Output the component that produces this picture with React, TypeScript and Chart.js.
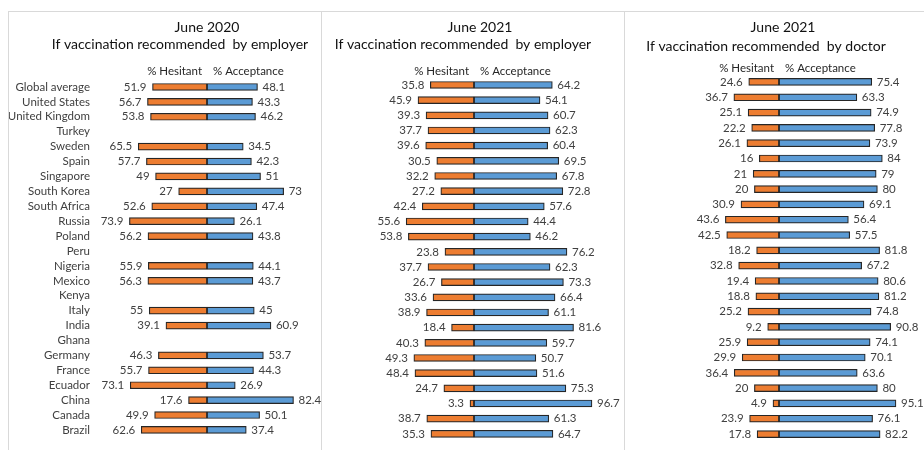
import React, { useEffect, useRef } from "react";
import { Chart, registerables } from "chart.js";
Chart.register(...registerables);

const countries = [
  "Global average", "United States", "United Kingdom", "Turkey", "Sweden", "Spain",
  "Singapore", "South Korea", "South Africa", "Russia", "Poland", "Peru", "Nigeria",
  "Mexico", "Kenya", "Italy", "India", "Ghana", "Germany", "France", "Ecuador",
  "China", "Canada", "Brazil",
];

const hesitant2020Employer = [51.9, 56.7, 53.8, null, 65.5, 57.7, 49, 27, 52.6, 73.9, 56.2, null, 55.9, 56.3, null, 55, 39.1, null, 46.3, 55.7, 73.1, 17.6, 49.9, 62.6];
const acceptance2020Employer = [48.1, 43.3, 46.2, null, 34.5, 42.3, 51, 73, 47.4, 26.1, 43.8, null, 44.1, 43.7, null, 45, 60.9, null, 53.7, 44.3, 26.9, 82.4, 50.1, 37.4];

const hesitant2021Employer = [35.8, 45.9, 39.3, 37.7, 39.6, 30.5, 32.2, 27.2, 42.4, 55.6, 53.8, 23.8, 37.7, 26.7, 33.6, 38.9, 18.4, 40.3, 49.3, 48.4, 24.7, 3.3, 38.7, 35.3];
const acceptance2021Employer = [64.2, 54.1, 60.7, 62.3, 60.4, 69.5, 67.8, 72.8, 57.6, 44.4, 46.2, 76.2, 62.3, 73.3, 66.4, 61.1, 81.6, 59.7, 50.7, 51.6, 75.3, 96.7, 61.3, 64.7];

const hesitant2021Doctor = [24.6, 36.7, 25.1, 22.2, 26.1, 16, 21, 20, 30.9, 43.6, 42.5, 18.2, 32.8, 19.4, 18.8, 25.2, 9.2, 25.9, 29.9, 36.4, 20, 4.9, 23.9, 17.8];
const acceptance2021Doctor = [75.4, 63.3, 74.9, 77.8, 73.9, 84, 79, 80, 69.1, 56.4, 57.5, 81.8, 67.2, 80.6, 81.2, 74.8, 90.8, 74.1, 70.1, 63.6, 80, 95.1, 76.1, 82.2];

const seriesNames = ["% Hesitant", "% Acceptance"];

const FONT = "Lato, 'Open Sans', sans-serif";
const ORANGE = "#ED7D31";
const BLUE = "#5B9BD5";
const EDGE = "#262626";
const TEXT = "#404040";

const panels = [
  {
    title: ["June 2020", "If vaccination recommended  by employer"],
    hes: hesitant2020Employer, acc: acceptance2020Employer,
    left: 9, width: 312,
    showLabels: true, axisW: 93,
    pad: { left: 0, right: 9, top: 67.5, bottom: 12.6 },
    titleX: [198, 171], titleY: [15, 32], headerY: 59,
  },
  {
    title: ["June 2021", "If vaccination recommended  by employer"],
    hes: hesitant2021Employer, acc: acceptance2021Employer,
    left: 322, width: 302,
    showLabels: false, axisW: 0,
    pad: { left: 30, right: 28, top: 65.4, bottom: 8.6 },
    titleX: [158, 141], titleY: [15, 32], headerY: 59,
  },
  {
    title: ["June 2021", "If vaccination recommended  by doctor"],
    hes: hesitant2021Doctor, acc: acceptance2021Doctor,
    left: 625, width: 299,
    showLabels: false, axisW: 0,
    pad: { left: 31, right: 22, top: 62.3, bottom: 8.3 },
    titleX: [158, 141], titleY: [15, 34], headerY: 56,
  },
];

const CANVAS_TOP = 12;
const CANVAS_H = 438;

function makeTextPlugin(cfg: any) {
  return {
    id: "texts",
    afterDatasetsDraw(chart: any) {
      const ctx = chart.ctx;
      ctx.save();
      ctx.font = `11.5px ${FONT}`;
      ctx.fillStyle = TEXT;
      ctx.textBaseline = "middle";
      chart.data.datasets.forEach((ds: any, i: number) => {
        const meta = chart.getDatasetMeta(i);
        meta.data.forEach((el: any, j: number) => {
          const v = ds.data[j];
          if (v == null || !isFinite(el.x)) return;
          const txt = String(Math.abs(v));
          if (v < 0) {
            ctx.textAlign = "right";
            ctx.fillText(txt, el.x - 6, el.y);
          } else {
            ctx.textAlign = "left";
            ctx.fillText(txt, el.x + 5, el.y);
          }
        });
      });
      ctx.restore();
    },
    afterDraw(chart: any) {
      const ctx = chart.ctx;
      ctx.save();
      ctx.textBaseline = "middle";
      ctx.textAlign = "center";
      ctx.fillStyle = "#111";
      ctx.font = `14px ${FONT}`;
      cfg.title.forEach((line: string, k: number) => {
        ctx.fillText(line, cfg.titleX[k], cfg.titleY[k]);
      });
      const zero = chart.scales.x.getPixelForValue(0);
      ctx.font = `11.5px ${FONT}`;
      ctx.fillStyle = "#262626";
      ctx.textAlign = "right";
      ctx.fillText(seriesNames[0], zero - 5, cfg.headerY);
      ctx.textAlign = "left";
      ctx.fillText(seriesNames[1], zero + 6, cfg.headerY);
      ctx.restore();
    },
  };
}

function Panel({ cfg }: { cfg: any }) {
  const ref = useRef<HTMLCanvasElement | null>(null);
  useEffect(() => {
    const chart = new Chart(ref.current as HTMLCanvasElement, {
      type: "bar",
      data: {
        labels: countries,
        datasets: [
          {
            label: seriesNames[0],
            data: cfg.hes.map((v: number | null) => (v == null ? null : -v)),
            backgroundColor: ORANGE,
            borderColor: EDGE,
            borderWidth: 1.2,
            borderSkipped: false,
            barThickness: 7,
          },
          {
            label: seriesNames[1],
            data: cfg.acc,
            backgroundColor: BLUE,
            borderColor: EDGE,
            borderWidth: 1.2,
            borderSkipped: false,
            barThickness: 7,
          },
        ],
      },
      options: {
        indexAxis: "y",
        responsive: false,
        animation: false,
        layout: { padding: cfg.pad },
        plugins: {
          legend: { display: false },
          tooltip: { enabled: false },
          title: { display: false },
        },
        scales: {
          x: { display: false, stacked: true, min: -100, max: 100 },
          y: {
            stacked: true,
            display: cfg.showLabels,
            grid: { display: false, drawTicks: false },
            border: { display: false },
            ticks: {
              autoSkip: false,
              padding: 12,
              color: TEXT,
              font: { family: FONT, size: 11.5 },
            },
            afterFit: (s: any) => {
              if (cfg.showLabels) {
                s.width = cfg.axisW;
                s.paddingTop = 0;
                s.paddingBottom = 0;
              }
            },
          },
        },
      } as any,
      plugins: [makeTextPlugin(cfg)],
    });
    return () => chart.destroy();
  }, []);
  return (
    <canvas
      ref={ref}
      width={cfg.width}
      height={CANVAS_H}
      style={{ position: "absolute", left: cfg.left, top: CANVAS_TOP, width: cfg.width, height: CANVAS_H }}
    />
  );
}

const line = (s: React.CSSProperties) => (
  <div style={{ position: "absolute", background: "#d9d9d9", ...s }} />
);

export default function App() {
  return (
    <div style={{ position: "fixed", left: 0, top: 0, width: 924, height: 450, background: "#fff", overflow: "hidden" }}>
      {line({ left: 8, top: 11, width: 916, height: 1 })}
      {line({ left: 8, top: 11, width: 1, height: 439 })}
      {line({ left: 321, top: 11, width: 1, height: 439 })}
      {line({ left: 624, top: 11, width: 1, height: 439 })}
      {panels.map((p, i) => (
        <Panel key={i} cfg={p} />
      ))}
    </div>
  );
}
